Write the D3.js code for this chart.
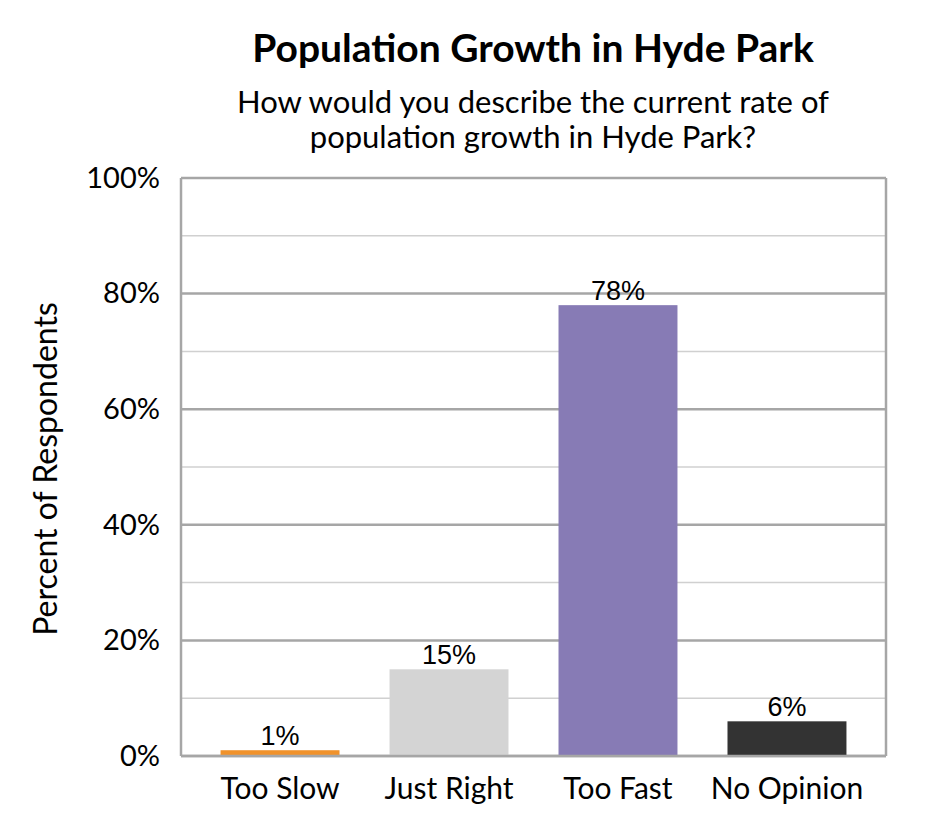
<!DOCTYPE html>
<html>
<head>
<meta charset="utf-8">
<script src="https://cdn.jsdelivr.net/npm/d3@7"></script>
<style>
  html, body { margin: 0; padding: 0; background: #fff; }
  svg { display: block; }
</style>
</head>
<body>
<svg id="chart" width="945" height="840"></svg>
<script>
const categories = ["Too Slow", "Just Right", "Too Fast", "No Opinion"];
const values = [1, 15, 78, 6];
const barColors = ["#F0922B", "#D4D4D4", "#877BB5", "#333333"];
const majorTicks = [0, 20, 40, 60, 80, 100];
const minorTicks = [10, 30, 50, 70, 90];
const titleText = "Population Growth in Hyde Park";
const subtitleLines = ["How would you describe the current rate of", "population growth in Hyde Park?"];
const yAxisTitle = "Percent of Respondents";

const svg = d3.select("#chart");
const calibri = "Lato, 'Open Sans', sans-serif";
const plot = { left: 181, right: 886, top: 178, bottom: 756 };

const x = d3.scaleBand()
  .domain(categories)
  .range([plot.left, plot.right])
  .paddingInner(0.296)
  .paddingOuter(0.234)
  .align(0.5);
const y = d3.scaleLinear().domain([0, 100]).range([plot.bottom, plot.top]);

// minor gridlines
svg.append("g").selectAll("line").data(minorTicks).join("line")
  .attr("x1", plot.left).attr("x2", plot.right)
  .attr("y1", d => y(d)).attr("y2", d => y(d))
  .attr("stroke", "#D0D0D0").attr("stroke-width", 1.5);

// major gridlines
svg.append("g").selectAll("line").data(majorTicks).join("line")
  .attr("x1", plot.left).attr("x2", plot.right)
  .attr("y1", d => y(d)).attr("y2", d => y(d))
  .attr("stroke", "#A6A6A6").attr("stroke-width", 2.5);

// plot border sides
svg.append("line").attr("x1", plot.left).attr("x2", plot.left)
  .attr("y1", plot.top).attr("y2", plot.bottom)
  .attr("stroke", "#A6A6A6").attr("stroke-width", 2.5);
svg.append("line").attr("x1", plot.right).attr("x2", plot.right)
  .attr("y1", plot.top).attr("y2", plot.bottom)
  .attr("stroke", "#A6A6A6").attr("stroke-width", 2.5);

// bars
svg.append("g").selectAll("rect").data(values).join("rect")
  .attr("x", (d, i) => x(categories[i]))
  .attr("width", x.bandwidth())
  .attr("y", d => y(d))
  .attr("height", d => y(0) - y(d))
  .attr("fill", (d, i) => barColors[i]);

// redraw baseline over bars
svg.append("line").attr("x1", plot.left).attr("x2", plot.right)
  .attr("y1", y(0)).attr("y2", y(0))
  .attr("stroke", "#A6A6A6").attr("stroke-width", 2.5);

// value labels
svg.append("g").selectAll("text").data(values).join("text")
  .attr("x", (d, i) => x(categories[i]) + x.bandwidth() / 2)
  .attr("y", d => y(d) - 5)
  .attr("text-anchor", "middle")
  .attr("font-family", "'Liberation Sans', Arial, sans-serif")
  .attr("font-size", 27)
  .attr("fill", "#000")
  .text(d => d + "%");

// y tick labels
const yAxis = d3.axisLeft(y).tickValues(majorTicks).tickFormat(d => d + "%").tickSize(0).tickPadding(21);
const ya = svg.append("g").attr("transform", `translate(${plot.left},0)`).call(yAxis);
ya.select(".domain").remove();
ya.selectAll("text").attr("font-family", calibri).attr("font-size", 29).attr("fill", "#000");

// x category labels
const xAxis = d3.axisBottom(x).tickSize(0).tickPadding(22);
const xa = svg.append("g").attr("transform", `translate(0,${plot.bottom})`).call(xAxis);
xa.select(".domain").remove();
xa.selectAll("text").attr("font-family", calibri).attr("font-size", 30).attr("fill", "#000");

// title
svg.append("text").attr("x", 533).attr("y", 62).attr("text-anchor", "middle")
  .attr("font-family", calibri).attr("font-weight", "bold").attr("font-size", 39)
  .text(titleText);
svg.append("g").selectAll("text").data(subtitleLines).join("text")
  .attr("x", 533).attr("y", (d, i) => 113 + i * 35).attr("text-anchor", "middle")
  .attr("font-family", calibri).attr("font-size", 31)
  .text(d => d);

// y axis title
svg.append("text")
  .attr("transform", "translate(57,469) rotate(-90)")
  .attr("text-anchor", "middle")
  .attr("font-family", calibri).attr("font-size", 32)
  .text(yAxisTitle);
</script>
</body>
</html>
